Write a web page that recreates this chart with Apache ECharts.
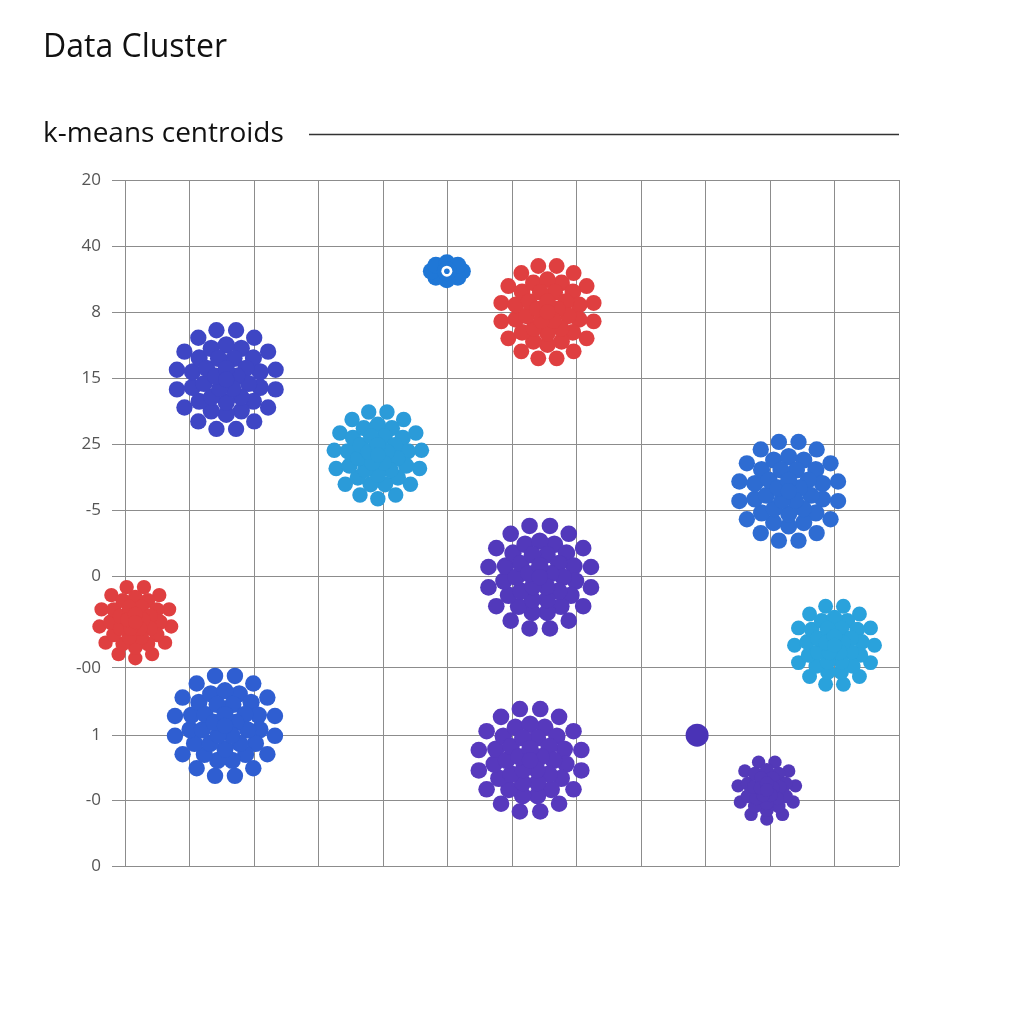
<!DOCTYPE html>
<html>
<head>
<meta charset="utf-8">
<script src="https://cdn.jsdelivr.net/npm/echarts@6/dist/echarts.min.js"></script>
<style>html,body{margin:0;padding:0;background:#fff}#c{width:1024px;height:1024px}</style>
</head>
<body>
<div id="c"></div>
<script>
// ---- data ----
const clusterNames  = ['C1','C2','C3','C4','C5','C6','C7','C8','C9','C10'];
const clusterX      = [1.57, 3.92, 6.55, 10.29, 6.43, 0.16, 11.0, 1.55, 6.28, 9.95];
const clusterY      = [7.36, 6.22, 8.38, 5.67, 4.37, 3.69, 3.34, 2.12, 1.60, 1.15];
const clusterSpread = [0.78, 0.68, 0.73, 0.78, 0.81, 0.56, 0.62, 0.79, 0.81, 0.45];
const flowerX = [4.99];
const flowerY = [9.0];
const centroidX = [8.87];
const centroidY = [1.98];
const yTickPos    = [0, 1, 1.98, 3, 4.38, 5.38, 6.38, 7.38, 8.38, 9.38, 10.38];
const yTickLabels = ['0', '-0', '1', '-00', '0', '-5', '25', '15', '8', '40', '20'];

// ---- styles ----
const clusterColors = ['#3e46c4', '#2b9bd9', '#df3f40', '#2e6cd2', '#5239bb',
                       '#df3f40', '#2aa2dc', '#2f5ed1', '#5739bd', '#5339b8'];
const gridColor = '#8c8c8c';

const chart = echarts.init(document.getElementById('c'));

function labelFor(v) {
  let best = 0;
  for (let i = 0; i < yTickPos.length; i++) {
    if (Math.abs(yTickPos[i] - v) < Math.abs(yTickPos[best] - v)) best = i;
  }
  return yTickLabels[best];
}

function renderCluster(params, api) {
  const c = api.coord([api.value(0), api.value(1)]);
  const R = api.size([api.value(2), 0])[0];
  const color = api.visual('color');
  const d = 9.3 + 0.14 * R;
  // [radius fraction, dot-size factor, spacing factor]
  const rings = [[1, 1, 1.2], [0.69, 1.05, 0.88], [0.45, 1.05, 0.88], [0.22, 1.05, 0.9]];
  const children = [];
  rings.forEach(function (rg, ri) {
    const r = rg[0] * R;
    const dd = d * rg[1];
    const n = Math.max(5, Math.round(2 * Math.PI * r / (dd * rg[2])));
    const off = (ri % 2) * Math.PI / n - Math.PI / 2 + Math.PI / n;
    for (let k = 0; k < n; k++) {
      const a = off + 2 * Math.PI * k / n;
      children.push({type: 'circle', shape: {cx: c[0] + r * Math.cos(a), cy: c[1] + r * Math.sin(a), r: dd / 2},
        style: {fill: color}});
    }
  });
  children.push({type: 'circle', shape: {cx: c[0], cy: c[1], r: d / 2}, style: {fill: color}});
  return {type: 'group', children: children};
}

function renderFlower(params, api) {
  const c = api.coord([api.value(0), api.value(1)]);
  const color = '#1f77d6';
  const children = [];
  const n = 8;
  for (let k = 0; k < n; k++) {
    const a = 2 * Math.PI * k / n;
    children.push({type: 'circle', shape: {cx: c[0] + 15.5 * Math.cos(a), cy: c[1] + 8.5 * Math.sin(a), r: 8.5}, style: {fill: color}});
  }
  children.push({type: 'circle', shape: {cx: c[0], cy: c[1], r: 10}, style: {fill: color}});
  children.push({type: 'circle', shape: {cx: c[0], cy: c[1], r: 5.5}, style: {fill: '#fff'}});
  children.push({type: 'circle', shape: {cx: c[0], cy: c[1], r: 2.8}, style: {fill: color}});
  return {type: 'group', children: children};
}

const clusterData = clusterX.map(function (x, i) {
  return {name: clusterNames[i], value: [x, clusterY[i], clusterSpread[i]], itemStyle: {color: clusterColors[i]}};
});

chart.setOption({
  backgroundColor: '#ffffff',
  animation: false,
  title: [
    {text: 'Data Cluster', left: 38, top: 27,
     textStyle: {fontFamily: 'Open Sans, sans-serif', fontSize: 32, fontWeight: 'normal', color: '#111'}},
    {text: 'k-means centroids', left: 38, top: 115,
     textStyle: {fontFamily: 'Open Sans, sans-serif', fontSize: 28, fontWeight: 'normal', color: '#111'}}
  ],
  graphic: [
    {type: 'line', shape: {x1: 309, y1: 134.5, x2: 899, y2: 134.5}, style: {stroke: '#333', lineWidth: 1.3}}
  ],
  grid: {left: 125, top: 180, right: 125, bottom: 158, containLabel: false},
  xAxis: {
    type: 'value', min: 0, max: 12, interval: 1,
    axisLine: {show: false}, axisTick: {show: false}, axisLabel: {show: false},
    splitLine: {show: true, lineStyle: {color: gridColor, width: 1}}
  },
  yAxis: {
    type: 'value', min: 0, max: 10.38,
    axisLine: {show: false},
    axisTick: {show: true, customValues: yTickPos, length: 13, lineStyle: {color: gridColor}},
    axisLabel: {show: true, customValues: yTickPos, formatter: labelFor, margin: 24,
      fontFamily: 'Open Sans, sans-serif', fontSize: 17, color: '#555'},
    splitLine: {show: false}
  },
  series: [
    {
      type: 'line', name: 'grid', data: [], z: 1, silent: true,
      markLine: {
        silent: true, symbol: 'none', animation: false, z: 1,
        label: {show: false},
        lineStyle: {color: gridColor, width: 1, type: 'solid'},
        data: yTickPos.map(function (v) { return {yAxis: v}; })
      }
    },
    {
      type: 'custom', name: 'clusters', renderItem: renderCluster, data: clusterData, z: 3
    },
    {
      type: 'custom', name: 'flower', renderItem: renderFlower,
      data: flowerX.map(function (x, i) { return [x, flowerY[i]]; }), z: 3
    },
    {
      type: 'scatter', name: 'centroid', symbolSize: 23,
      itemStyle: {color: '#4a33b6', opacity: 1},
      data: centroidX.map(function (x, i) { return [x, centroidY[i]]; }), z: 3
    }
  ]
});
</script>
</body>
</html>
